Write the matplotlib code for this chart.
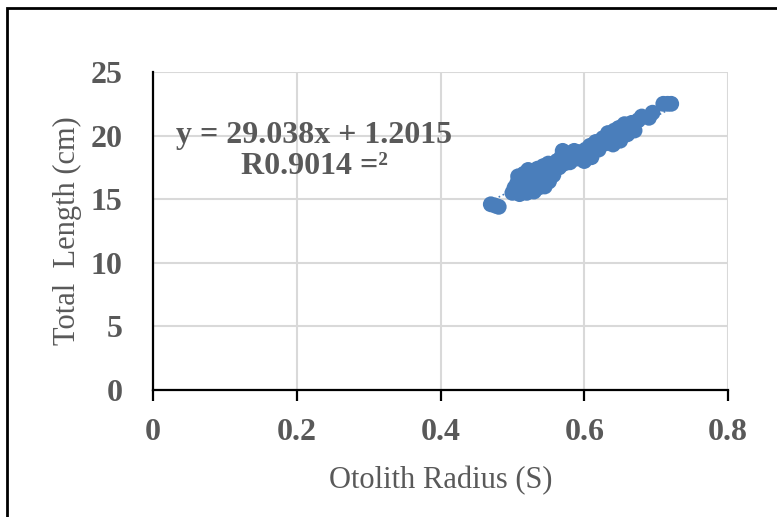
import numpy as np
import matplotlib
matplotlib.use("Agg")
import matplotlib.pyplot as plt
from matplotlib.patches import Rectangle

## the data
radius = [0.470, 0.476, 0.481,
          0.500, 0.503, 0.505, 0.507, 0.508, 0.510, 0.512, 0.513, 0.515, 0.516,
          0.518, 0.520, 0.521, 0.522, 0.524, 0.525, 0.527, 0.528, 0.530, 0.531,
          0.533, 0.535, 0.536, 0.538, 0.540, 0.541, 0.543, 0.545, 0.546, 0.548,
          0.550, 0.551, 0.553, 0.555, 0.557, 0.560, 0.562, 0.565, 0.568, 0.570,
          0.572, 0.575, 0.578, 0.580, 0.583, 0.586, 0.590, 0.593, 0.596, 0.600,
          0.602, 0.605, 0.608, 0.610, 0.613, 0.616, 0.620, 0.623, 0.626, 0.630,
          0.633, 0.636, 0.640, 0.642, 0.645, 0.648, 0.650, 0.653, 0.656, 0.660,
          0.663, 0.666, 0.670, 0.675, 0.680, 0.690, 0.695, 0.710, 0.716, 0.721]
length = [14.6, 14.5, 14.4,
          15.5, 15.9, 15.6, 16.3, 16.8, 15.4, 16.0, 16.6, 15.7, 17.0,
          16.3, 15.5, 16.8, 17.3, 16.0, 15.8, 16.5, 17.1, 15.6, 16.2,
          16.9, 17.4, 15.9, 16.5, 17.0, 16.2, 17.6, 16.0, 16.8, 17.3,
          17.8, 16.4, 17.0, 17.6, 16.9, 17.4, 18.0, 17.5, 18.3, 18.8,
          17.8, 18.2, 18.6, 17.9, 18.4, 18.8, 18.2, 18.7, 18.4, 18.0,
          18.9, 18.5, 19.2, 18.3, 19.0, 19.5, 18.9, 19.3, 19.8, 19.4,
          20.2, 19.7, 19.3, 20.4, 20.0, 20.6, 19.6, 20.3, 20.9, 20.1,
          20.6, 21.0, 20.4, 21.2, 21.5, 21.4, 21.8, 22.5, 22.5, 22.5]

slope = 29.038
intercept = 1.2015
r2 = 0.9014

xticks = [0, 0.2, 0.4, 0.6, 0.8]
yticks = [0, 5, 10, 15, 20, 25]

grey = '#595959'
blue = '#4a7ebb'

plt.rcParams['font.family'] = ['Liberation Serif', 'DejaVu Serif']

fig = plt.figure(figsize=(7.77, 5.17), dpi=100)
ax = fig.add_axes([153/777, 1 - 390/517, 575/777, 318/517])

# frame round the whole chart (runs off right and bottom)
fig.patches.append(Rectangle((7/777, -0.1), 1.2, 1.1 - 8/517,
                             transform=fig.transFigure, fill=False,
                             edgecolor='black', linewidth=2))

ax.scatter(radius, length, s=130, color=blue, edgecolors='none', zorder=3)

# trendline
fx = np.array([min(radius), max(radius)])
ax.plot(fx, slope*fx + intercept, color=blue, linestyle=':', linewidth=1.2, zorder=2)

ax.set_xlim(0, 0.8)
ax.set_ylim(0, 25)
ax.set_xticks(xticks)
ax.set_xticklabels(['0', '0.2', '0.4', '0.6', '0.8'])
ax.set_yticks(yticks)
ax.grid(True, color='#d9d9d9', linewidth=1.5, zorder=0)
ax.set_axisbelow(True)

for side in ['top', 'right']:
    ax.spines[side].set_visible(False)
for side in ['left', 'bottom']:
    ax.spines[side].set_linewidth(1.6)
    ax.spines[side].set_color('black')

ax.tick_params(axis='x', direction='out', length=8, width=1.6, color='black',
               pad=12, labelsize=23, labelcolor=grey)
ax.tick_params(axis='y', length=0, pad=22, labelsize=23, labelcolor=grey)
for lab in ax.get_xticklabels() + ax.get_yticklabels():
    lab.set_fontweight('bold')

ax.set_xlabel('Otolith Radius (S)', fontsize=22, color=grey, labelpad=14)
ax.set_ylabel('Total  Length (cm)', fontsize=22, color=grey, labelpad=6)

ax.text(0.224, 18.8, 'y = 29.038x + 1.2015\nR0.9014 =\u00b2', fontsize=23,
        fontweight='bold', color=grey, ha='center', va='center',
        linespacing=1.12, zorder=4)

fig.savefig('out.png', dpi=100)
